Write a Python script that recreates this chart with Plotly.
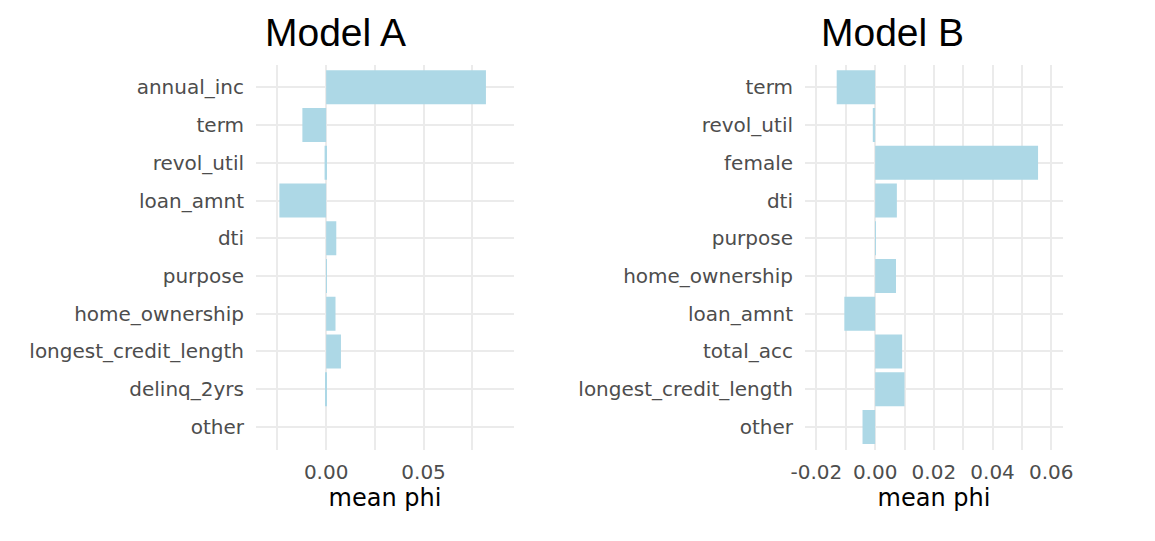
import plotly.graph_objects as go

# ---- data ----
features_a = ["annual_inc", "term", "revol_util", "loan_amnt", "dti", "purpose",
              "home_ownership", "longest_credit_length", "delinq_2yrs", "other"]
phi_a = [0.082, -0.0122, -0.0008, -0.0240, 0.0052, 0.0002, 0.0048, 0.0076, -0.0004, 0.0]

features_b = ["term", "revol_util", "female", "dti", "purpose", "home_ownership",
              "loan_amnt", "total_acc", "longest_credit_length", "other"]
phi_b = [-0.0131, -0.0008, 0.0555, 0.0074, 0.0002, 0.0071, -0.0105, 0.0092, 0.0100, -0.0043]

ticks_a = [0.0, 0.05]
ticklabels_a = ["0.00", "0.05"]
ticks_b = [-0.02, 0.0, 0.02, 0.04, 0.06]
ticklabels_b = ["-0.02", "0.00", "0.02", "0.04", "0.06"]

titles = ["Model A", "Model B"]
x_title = "mean phi"

W, H = 1155, 541
OFF = 8  # page body margin
BAR = "#ADD8E6"
GRID = "#ebebeb"
TICKFONT = dict(family="DejaVu Sans", size=20, color="#4d4d4d")

fig = go.Figure()
fig.add_trace(go.Bar(x=phi_a, y=features_a, orientation="h", marker_color=BAR,
                     marker_line_width=0, width=0.9, xaxis="x", yaxis="y",
                     showlegend=False))
fig.add_trace(go.Bar(x=phi_b, y=features_b, orientation="h", marker_color=BAR,
                     marker_line_width=0, width=0.9, xaxis="x2", yaxis="y2",
                     showlegend=False))

ydom = [1 - (449.6 - OFF) / H, 1 - (64.7 - OFF) / H]
xa_dom = [(256 - OFF) / W, (514 - OFF) / W]
xb_dom = [(805 - OFF) / W, (1063 - OFF) / W]

def xaxis(dom, rng, tv, tt, minor_dtick, anchor):
    return dict(domain=dom, range=rng, anchor=anchor, tickmode="array",
                tickvals=tv, ticktext=tt, automargin=False, ticklabelstandoff=8,
                showgrid=True, gridcolor=GRID, gridwidth=2,
                zeroline=False, showline=False, ticks="", tickfont=TICKFONT,
                minor=dict(dtick=minor_dtick, tick0=0, showgrid=True, gridcolor=GRID, gridwidth=1.5),
                title=dict(text=x_title, font=dict(family="DejaVu Sans", size=24, color="black"),
                           standoff=6))

def yaxis(dom, cats, anchor):
    return dict(domain=dom, anchor=anchor, type="category", categoryorder="array",
                categoryarray=cats, range=[len(cats) - 0.4, -0.6], automargin=False,
                showgrid=True, gridcolor=GRID, gridwidth=2, zeroline=False,
                showline=False, ticks="", tickfont=TICKFONT, ticklabelstandoff=11)

fig.update_layout(
    width=W, height=H, margin=dict(l=0, r=0, t=0, b=0),
    paper_bgcolor="white", plot_bgcolor="white", bargap=0.1,
    xaxis=xaxis(xa_dom, [-0.036, 0.0964], ticks_a, ticklabels_a, 0.025, "y"),
    yaxis=yaxis(ydom, features_a, "x"),
    xaxis2=xaxis(xb_dom, [-0.0239, 0.064], ticks_b, ticklabels_b, 0.01, "y2"),
    yaxis2=yaxis(ydom, features_b, "x2"),
    annotations=[
        dict(text=titles[0], x=255 / W, y=1 - 24 / H, xref="paper", yref="paper",
             xanchor="left", yanchor="middle", showarrow=False,
             font=dict(family="Liberation Sans", size=39, color="black")),
        dict(text=titles[1], x=811 / W, y=1 - 24 / H, xref="paper", yref="paper",
             xanchor="left", yanchor="middle", showarrow=False,
             font=dict(family="Liberation Sans", size=39, color="black")),
    ],
)

fig.write_html("out.html")
